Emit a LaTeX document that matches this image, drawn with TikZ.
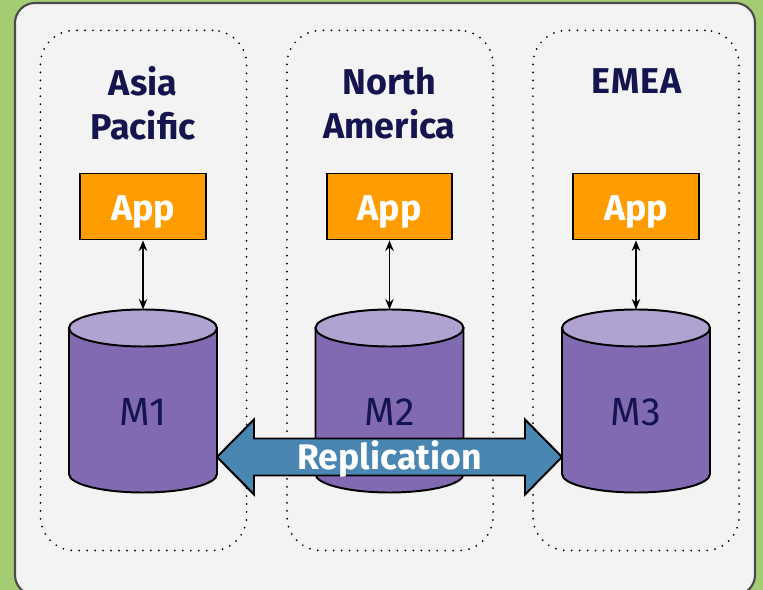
\documentclass[tikz,border=0pt]{standalone}
\usepackage{fontspec}
\setmainfont{Fira Sans}
\usetikzlibrary{arrows.meta,positioning}
\definecolor{bggreen}{HTML}{A4CC72}
\definecolor{panelgrey}{HTML}{F3F3F3}
\definecolor{panelline}{HTML}{4A4A4A}
\definecolor{titleblue}{HTML}{14144F}
\definecolor{apporange}{HTML}{FF9C00}
\definecolor{dbpurple}{HTML}{826AB2}
\definecolor{dbtop}{HTML}{B0A3D2}
\definecolor{repblue}{HTML}{4A86B2}
\tikzset{
  region/.style={draw=black, line width=1.4pt, line cap=round, dash pattern=on 0pt off 5.67pt,
    rounded corners=0.85cm, minimum width=5.15cm, minimum height=13cm},
  regiontitle/.style={text=titleblue, font=\bfseries\fontsize{25.5}{31}\selectfont, align=center},
  appbox/.style={draw=black, line width=1.3pt, fill=apporange, text=white,
    font=\bfseries\fontsize{25.5}{28}\selectfont, minimum width=3.13cm, minimum height=1.65cm,
    text height=0.68cm, text depth=0pt},
  dbtext/.style={text=titleblue, font=\fontsize{28}{30}\selectfont},
  link/.style={line width=1.1pt, {Stealth[length=7.5pt,width=6pt,inset=2.5pt]}-{Stealth[length=7.5pt,width=6pt,inset=2.5pt]}}
}
\begin{document}
\begin{tikzpicture}[x=0.025cm,y=-0.025cm]
\useasboundingbox (0,0) rectangle (763,590);
\fill [bggreen] (0,0) rectangle (763,590);
\draw [panelline, fill=panelgrey, line width=1.5pt, rounded corners=0.5cm] (15,3) rectangle (755,595);
% regions
\node [region] (asia) at (143.5,290.5) {};
\node [region] (america) at (390,290.5) {};
\node [region] (emea) at (636,290.5) {};
\node [regiontitle] (asiatitle) at (143,103.5) {Asia\\Pacific};
\node [regiontitle] (americatitle) at (389.5,103.5) {North\\America};
\node [regiontitle] (emeatitle) at (636.5,81.5) {\addfontfeature{LetterSpace=3}EMEA};
% apps
\node [appbox] (app1) at (143,206.5) {App};
\node [appbox] (app2) at (389.5,206.5) {App};
\node [appbox] (app3) at (636,206.5) {App};
% databases
\foreach \name/\xc/\lab in {m1/143/M1,m2/389.5/M2,m3/636/M3} {
  \draw [black, fill=dbpurple, line width=1.4pt] (\xc-74,328) -- (\xc-74,474)
    arc [start angle=180, end angle=360, x radius=74, y radius=-18.5] -- (\xc+74,328) -- cycle;
  \draw [black, fill=dbtop, line width=1.4pt] (\xc,328) ellipse [x radius=74, y radius=18.5];
  \coordinate (\name top) at (\xc,309.5);
  \coordinate (\name left) at (\xc-74,457);
  \coordinate (\name right) at (\xc+74,457);
  \node [dbtext] (\name) at (\xc,412) {\lab};
}
\draw [link] (app1.south) -- (m1top);
\draw [link] (app2.south) -- (m2top);
\draw [link] (app3.south) -- (m3top);
% replication arrow
\draw [black, fill=repblue, line width=1.4pt] (m1right) -- (254,419.5) -- (254,438.5) -- (525,438.5)
  -- (525,419.5) -- (m3left) -- (525,494.5) -- (525,475.5) -- (254,475.5) -- (254,494.5) -- cycle;
\node [text=white, font=\bfseries\fontsize{25.3}{28}\selectfont] (replabel) at (389.5,459.5) {Replication};
\end{tikzpicture}
\end{document}
